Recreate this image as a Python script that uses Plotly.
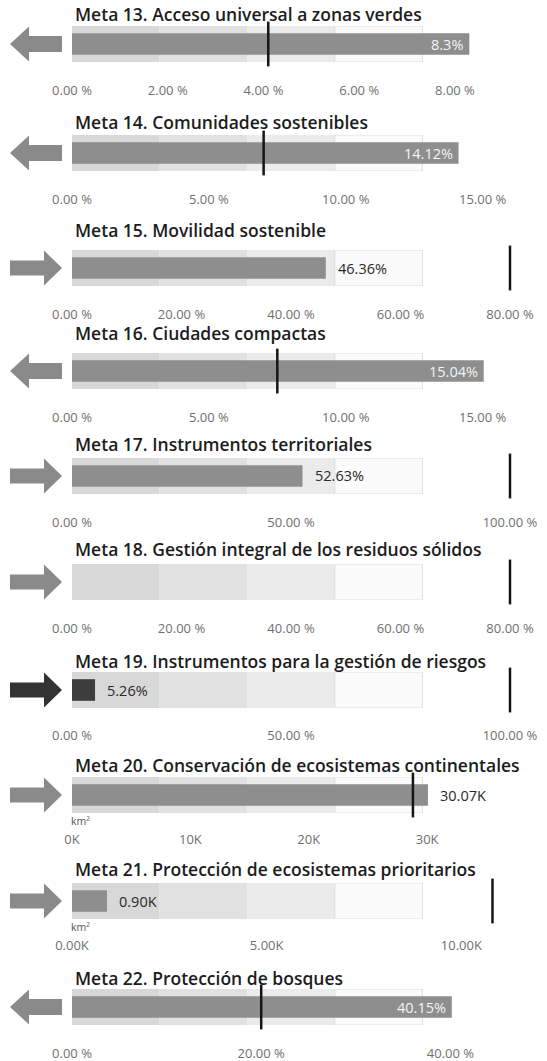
import plotly.graph_objects as go

# ---------------- data ----------------
titles = [
    "Meta 13. Acceso universal a zonas verdes",
    "Meta 14. Comunidades sostenibles",
    "Meta 15. Movilidad sostenible",
    "Meta 16. Ciudades compactas",
    "Meta 17. Instrumentos territoriales",
    "Meta 18. Gestión integral de los residuos sólidos",
    "Meta 19. Instrumentos para la gestión de riesgos",
    "Meta 20. Conservación de ecosistemas continentales",
    "Meta 21. Protección de ecosistemas prioritarios",
    "Meta 22. Protección de bosques",
]
values = [8.3, 14.12, 46.36, 15.04, 52.63, None, 5.26, 30.07, 0.90, 40.15]
targets = [4.1, 7.0, 80.0, 7.5, 100.0, 80.0, 100.0, 28.8, 10.8, 20.0]
axis_max = [9.15, 16.0, 80.0, 16.0, 100.0, 80.0, 100.0, 37.0, 11.25, 46.3]
tick_step = [2, 5, 20, 5, 50, 20, 50, 10, 5, 20]
value_labels = ["8.3%", "14.12%", "46.36%", "15.04%", "52.63%", "",
                "5.26%", "30.07K", "0.90K", "40.15%"]
tick_decimals = [2, 2, 2, 2, 2, 2, 2, 0, 2, 2]
tick_suffix = [" %", " %", " %", " %", " %", " %", " %", "K", "K", " %"]
units = ["", "", "", "", "", "", "", "km²", "km²", ""]
trend = ["left", "left", "right", "left", "right", "right", "right", "right", "right", "left"]

# ---------------- style / layout ----------------
W, H = 547, 1061
X0, X1 = 72, 510
bar_center = [44, 153, 268, 371, 476, 582, 690, 795, 901, 1007]
title_center = [14, 122, 230, 333, 444, 549, 661, 765, 869, 978]
tick_standoff = [19, 19, 19, 19, 19, 19, 18, 17, 17, 19]
label_inside = [True, True, False, True, False, False, False, False, False, True]
bar_colors = ["#8e8e8e"] * 10
bar_colors[6] = "#3d3d3d"
arrow_colors = ["#8a8a8a"] * 10
arrow_colors[6] = "#333333"
band_colors = ["#d8d8d8", "#e1e1e1", "#ebebeb", "#fbfbfb"]
band_lines = ["rgba(0,0,0,0)", "rgba(0,0,0,0)", "rgba(0,0,0,0)", "#dedede"]
BAND_H = 36
FONT = "Open Sans"

LEFT_ARROW = "M 10,0 L 29,-17.5 L 29,-8 L 62,-8 L 62,8 L 29,8 L 29,17.5 Z"
RIGHT_ARROW = "M 10,-7.5 L 44,-7.5 L 44,-17.5 L 62,0 L 44,17.5 L 44,7.5 L 10,7.5 Z"

fig = go.Figure()
layout = dict(
    width=W, height=H, margin=dict(l=0, r=0, t=0, b=0, autoexpand=False),
    paper_bgcolor="white", plot_bgcolor="rgba(0,0,0,0)",
    barmode="overlay", showlegend=False,
    font=dict(family=FONT, color="#333"),
)
annotations = []
shapes = []

for i in range(len(titles)):
    sfx = "" if i == 0 else str(i + 1)
    xa, ya = "x" + sfx, "y" + sfx
    c = bar_center[i]
    mx = axis_max[i]

    # qualitative bands
    edges = [mx * k / 5 for k in range(4)]
    fig.add_trace(go.Bar(
        x=[mx / 5] * 4, base=edges, y=[0] * 4, orientation="h", width=1.0,
        marker=dict(color=band_colors, line=dict(color=band_lines, width=1)),
        xaxis=xa, yaxis=ya, hoverinfo="skip",
    ))
    # measure bar
    if values[i] is not None:
        fig.add_trace(go.Bar(
            x=[values[i]], y=[0], orientation="h", width=0.6,
            marker=dict(color=bar_colors[i], line=dict(width=0)),
            xaxis=xa, yaxis=ya, hoverinfo="skip",
        ))
    # target marker
    fig.add_trace(go.Scatter(
        x=[targets[i]], y=[0], mode="markers", cliponaxis=False,
        marker=dict(symbol="line-ns", size=32, line=dict(color="#151515", width=2.5)),
        xaxis=xa, yaxis=ya, hoverinfo="skip",
    ))

    step = tick_step[i]
    tv = []
    k = 0
    while k * step <= mx + 1e-9:
        tv.append(k * step)
        k += 1
    tt = [f"{v:.{tick_decimals[i]}f}{tick_suffix[i]}" for v in tv]

    layout["xaxis" + sfx] = dict(
        domain=[X0 / W, X1 / W], range=[0, mx], anchor=ya,
        tickmode="array", tickvals=tv, ticktext=tt, automargin=False,
        showgrid=False, zeroline=False, showline=False, ticks="",
        tickfont=dict(family=FONT, size=13, color="#6f6f6f"),
        ticklabelstandoff=tick_standoff[i], fixedrange=True,
    )
    layout["yaxis" + sfx] = dict(
        domain=[(H - (c + BAND_H / 2)) / H, (H - (c - BAND_H / 2)) / H],
        range=[-0.5, 0.5], anchor=xa, visible=False, fixedrange=True,
        automargin=False,
    )

    # title
    annotations.append(dict(
        text=titles[i], xref="paper", yref="paper", x=X0 / W, xshift=1,
        y=(H - title_center[i]) / H, xanchor="left", yanchor="middle",
        showarrow=False, font=dict(family=FONT, size=17.5, color="#1c1c1c", weight=600),
    ))
    # value label
    if values[i] is not None and value_labels[i]:
        if label_inside[i]:
            annotations.append(dict(
                text=value_labels[i], xref=xa, yref=ya, x=values[i], y=0,
                xanchor="right", xshift=-4, yanchor="middle", showarrow=False,
                font=dict(family=FONT, size=14.5, color="#f4f4f4"),
            ))
        else:
            annotations.append(dict(
                text=value_labels[i], xref=xa, yref=ya, x=values[i], y=0,
                xanchor="left", xshift=10, yanchor="middle", showarrow=False,
                font=dict(family=FONT, size=14.5, color="#2a2a2a"),
            ))
    # unit label
    if units[i]:
        annotations.append(dict(
            text=units[i], xref=xa, yref=ya, x=0, y=-0.5, xshift=-3, yshift=-8,
            xanchor="left", yanchor="middle", showarrow=False,
            font=dict(family=FONT, size=10.5, color="#555"),
        ))
    # trend arrow
    shapes.append(dict(
        type="path", path=LEFT_ARROW if trend[i] == "left" else RIGHT_ARROW,
        xref="paper", xsizemode="pixel", xanchor=0,
        yref=ya + " domain", ysizemode="pixel", yanchor=0.5,
        fillcolor=arrow_colors[i], line=dict(width=0),
    ))

layout["annotations"] = annotations
layout["shapes"] = shapes
fig.update_layout(**layout)
fig.write_html(
    "out.html",
    config={"displayModeBar": False, "staticPlot": True},
    post_script="document.body.style.margin='0';document.body.style.overflow='hidden';",
)
